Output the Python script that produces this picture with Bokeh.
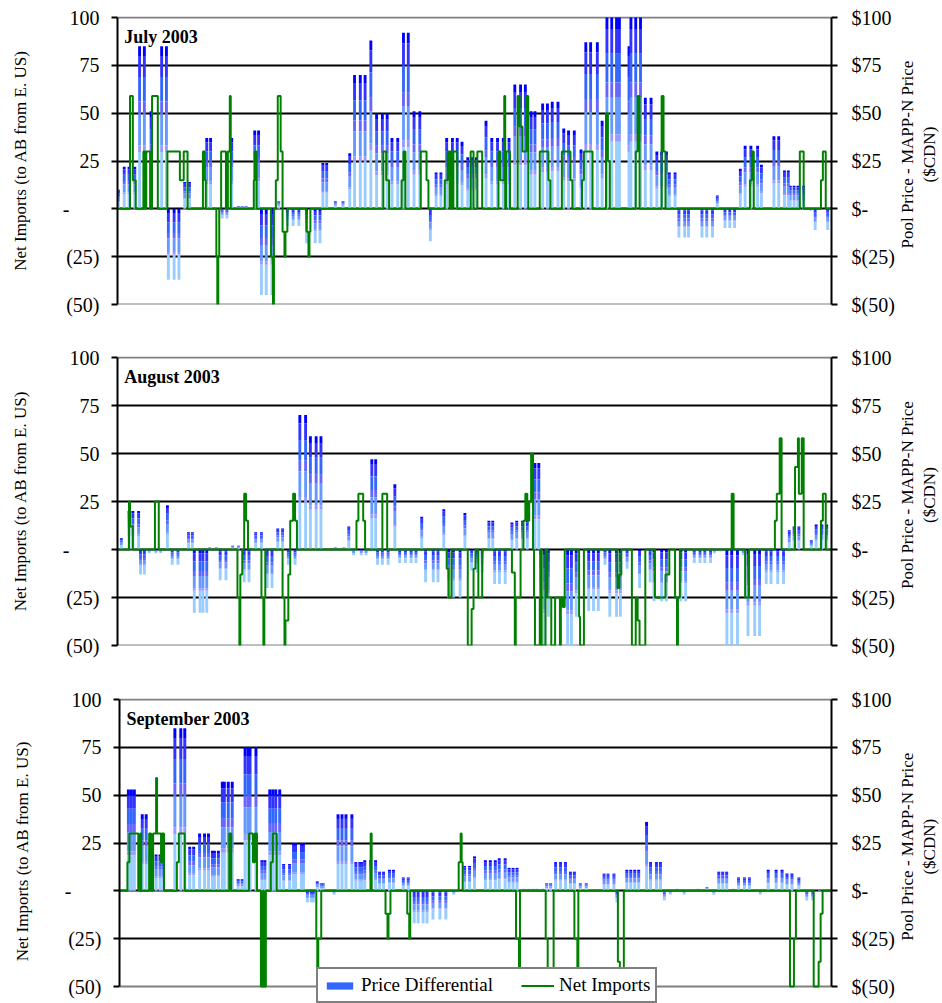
import math

from bokeh.plotting import figure
from bokeh.layouts import column, row
from bokeh.models import (ColumnDataSource, Range1d, LinearAxis, FixedTicker,
                          Label, Legend, LegendItem, Span)
from bokeh.embed import file_html
from bokeh.resources import INLINE

# ---------------------------------------------------------------------------
# Hourly data, summer 2003.  Bars: Pool Price - MAPP-N price ($CDN) at the
# given hour of the month.  Net imports: step series (hour of change, level).
# ---------------------------------------------------------------------------
jul_bar_h = [1, 7, 12, 18, 23, 28, 35, 46, 51, 53, 59, 64, 70, 75, 93, 97, 109, 114,
             119, 126, 130, 134, 143, 147, 150, 155, 161, 168, 177, 183, 189, 197,
             206, 211, 214, 218, 227, 235, 242, 247, 253, 258, 264, 270, 276, 281,
             286, 292, 298, 303, 309, 315, 326, 332, 337, 343, 349, 354, 359, 365,
             370, 374, 384, 390, 396, 402, 408, 414, 420, 425, 431, 435, 443, 448,
             453, 459, 465, 470, 476, 483, 488, 493, 500, 505, 510, 515, 520, 523,
             533, 535, 540, 545, 550, 556, 562, 567, 572, 575, 581, 585, 591, 595,
             609, 614, 620, 625, 633, 638, 643, 649, 654, 660, 667, 671, 684, 689,
             695, 699, 701, 705, 709, 715, 722, 727, 740]
jul_bar_v = [10, 22, 22, 22, 85, 85, 51, 85, 85, -37, -37, -37, 14, 14, 37, 37, -5, -5,
             37, 1.5, 1.5, 1.5, 41, 41, -45, -45, -45, 4, -9, -9, -9, -18,
             -18, -18, 24, 24, 4, 4, 29, 70, 70, 70, 88, 50, 50, 50,
             37, 37, 92, 92, 51, 51, -17, 19, 19, 37, 37, 37, 35, 27,
             27, 27, 46, 37, 37, 37, 37, 65, 65, 65, 51, 51, 55, 55,
             56, 56, 42, 41, 41, 31, 87, 87, 87, 46, 100, 100, 100, 100,
             85, 100, 100, 100, 58, 58, 30, 30, 30, 19, 19, -15, -15, -15,
             -15, -15, -15, 7, -10, -10, -10, 21, 33, 33, 33, 23, 38, 38,
             20, 20, 12, 12, 12, 12, -1, -11, -11]

jul_ni_h = [0, 13, 16, 19, 27, 29, 30, 34, 36, 42, 52, 65, 69, 73, 89, 91, 92,
            103, 104, 105, 106, 108, 113, 115, 117, 118, 142, 143, 145,
            160, 162, 163, 165, 167, 170, 172, 174, 175, 177,
            197, 199, 200, 201, 277, 280, 283, 296, 298, 300, 316, 322, 324,
            341, 344, 346, 347, 349, 350, 354, 368, 371, 375, 380,
            397, 399, 403, 404, 405, 409, 417, 419, 422, 426, 428,
            440, 449, 451, 463, 472, 474, 484, 486, 495, 509, 511, 513,
            540, 542, 544, 567, 569, 571, 659, 661, 663, 711, 715,
            733, 735, 738, 744]
jul_ni_v = [0, 59, 15, 0, 30, 0, 30, 0, 59, 0, 30, 15, 30, 0, 30, 15, 0,
            -25, -50, -25, 0, 30, 0, 30, 59, 0, 15, 30, 0,
            -25, -50, 0, 15, 59, 30, -12, -25, -12, 0,
            -12, -25, -12, 0, 30, 15, 0, 15, 30, 0, 30, 15, 0,
            15, 30, 0, 30, 0, 30, 0, 30, 0, 30, 0,
            30, 15, 59, 0, 30, 0, 59, 43, 30, 59, 0,
            30, 15, 0, 30, 15, 0, 15, 30, 0, 50, 25, 0,
            30, 59, 0, 59, 30, 0, 15, 30, 0, 30, 0,
            15, 30, 0, 0]

aug_bar_h = [4, 12, 16, 22, 24, 28, 33, 40, 45, 52, 57, 63, 74, 78, 80, 86, 89, 93,
             96, 103, 107, 113, 120, 126, 132, 137, 144, 150, 156, 161, 167, 172,
             178, 185, 190, 196, 201, 207, 212, 227, 236, 241, 246, 254, 259, 265,
             269, 271, 276, 282, 289, 294, 300, 306, 311, 317, 321, 329, 334, 340,
             345, 350, 357, 362, 369, 375, 380, 387, 391, 393, 398, 404, 411, 416,
             422, 427, 435, 439, 441, 445, 449, 469, 473, 478, 491, 496, 501, 508,
             513, 520, 524, 531, 544, 555, 559, 567, 572, 587, 592, 601, 607, 612,
             618, 622, 629, 635, 640, 646, 652, 657, 664, 669, 676, 681, 688, 694,
             700, 705, 710, 723, 728, 734, 739]
aug_bar_v = [6, 20, 20, 20, -13, -13, -2, -2, -2, 23, -8, -8, 9, 9, -33, -33, -33, -33,
             1, 1, -16, -16, 2, 2, -17, -17, 9, 9, -20, -20, 11, 11,
             -8, -8, 70, 70, 59, 59, 59, 1, 1, 12, -3, -3, -3, 47,
             47, -8, -8, -8, 34, -7, -7, -7, -7, 17, -17, -17, -17, 21,
             -25, -25, -25, 19, -11, -12, -12, 15, 15, -18, -18, -18, 14, 15,
             15, 15, 45, 45, -51, -51, -35, -52, -52, -35, -32, -32, -32, -8,
             -35, -35, -35, -10, -20, -17, -27, -27, -27, -27, -27, -7, -7, -7,
             -7, -2, -1, -51, -51, -51, -3, -45, -45, -45, -18, -18, -18, -18,
             10, 12, 12, 5, 13, 13, 13]

aug_ni_h = [0, 12, 13, 16, 39, 43,
            125, 127, 128, 130, 132, 134, 136, 150, 152, 153, 154,
            172, 174, 175, 178, 180, 183, 185, 187, 249, 251, 256, 258, 276, 281,
            343, 345, 348, 365, 369, 371, 373, 376, 380, 411, 414, 415, 420,
            423, 425, 427, 429, 431, 433, 434, 435, 440, 441, 442, 446, 448, 452,
            456, 461, 462, 464, 466, 481, 482, 486, 521, 523, 525,
            536, 540, 542, 544, 550, 560, 571, 575, 581, 583, 584, 586,
            640, 642, 654, 658, 685, 687, 690, 692, 706, 709, 710, 713, 715,
            733, 735, 738, 744]
aug_ni_v = [0, 25, 12, 0, 25, 0,
            -25, -50, -13, 0, 29, 15, 0, -25, -50, -25, 0,
            -25, -50, -37, -13, 15, 29, 15, 0, 15, 29, 15, 0, 29, 0,
            -10, -25, 0, -50, -31, -10, 0, -25, 0, -12, -50, -25, 0,
            15, 29, 15, 25, 50, 0, -25, -50, -25, 0, -50, 0, -25, -50,
            -25, -50, -25, -30, 0, -35, -50, 0, -20, -13, 0,
            -50, -25, -37, -50, 0, -25, -13, 0, -25, -50, -25, 0,
            29, 0, -25, 0, 15, 29, 58, 0, 43, 58, 29, 58, 0,
            15, 29, 0, 0]

sep_bar_h = [4, 9, 12, 15, 23, 27, 31, 37, 41, 44, 47, 51, 53, 56, 62, 66, 71, 75,
             81, 86, 90, 94, 96, 100, 104, 106, 110, 114, 120, 124, 127, 130, 132,
             138, 144, 147, 152, 155, 158, 162, 166, 172, 176, 178, 184, 186, 190,
             194, 196, 200, 204, 206, 217, 221, 225, 229, 235, 239, 243, 245, 248,
             254, 259, 263, 267, 273, 277, 287, 292, 298, 302, 307, 311, 317, 324,
             330, 338, 349, 354, 359, 370, 375, 380, 384, 390, 394, 398, 402, 409,
             414, 418, 422, 428, 432, 436, 441, 446, 451, 456, 460, 466, 472, 490,
             494, 500, 503, 513, 517, 521, 525, 533, 537, 543, 547, 551, 557, 564,
             571, 585, 594, 601, 606, 610, 614, 621, 626, 632, 637, 648, 656, 664,
             670, 675, 680, 687, 695, 701, 708, 715]
sep_bar_v = [1, 53, 53, 53, 40, 40, 19, 19, 19, 19, 1, 1, 1, 85, 85, 85, 23, 23,
             30, 30, 30, 21, 21, 21, 57, 57, 57, 57, 6, 6, 75, 75, 75,
             75, 16, 16, 53, 53, 53, 53, 14, 14, 25, 25, 25, 25, -6,
             -6, -6, 5, 4, 4, -2, 40, 40, 40, 40, 15, 15, 15, 16,
             16, 16, 10, 10, 11, 11, 7, 7, -17, -17, -17, -17, -15, -15,
             -15, -2, 13, 13, 18, 16, 16, 16, 17, 17, 12, 12, 12, 1,
             1, 1, 1, 1, 4, 4, 15, 15, 15, 10, 10, 4, 4, 9,
             9, 9, -6, 11, 11, 11, 11, 36, 15, 15, 15, -5, -2, 1,
             -2, 1, 2, -2, 10, 10, 10, 1, 7, 7, 7, -2, 11, 11,
             11, 9, 9, 7, -5, -5, 1, 1]

sep_ni_h = [0, 8, 10, 19, 21, 22, 30, 32, 34, 37, 38, 42, 43, 45, 58, 60, 66,
            111, 113, 131, 135, 137, 139, 143, 145, 146, 148, 153, 155, 159,
            199, 200, 201, 204, 254, 255, 269, 271, 272, 274, 291, 293, 294,
            343, 345, 346, 347, 401, 404, 405, 431, 433, 439, 460, 463, 464,
            504, 506, 510, 678, 682, 684, 702, 707, 709, 711, 720]
sep_ni_v = [0, 15, 30, 0, 30, 0, 30, 0, 30, 59, 30, 15, 30, 0, 15, 30, 0,
            30, 0, 30, 15, 30, 0, -50, 0, -50, 0, 15, 30, 0,
            -25, -50, -25, 0, 30, 0, -12, -25, -12, 0, -12, -25, 0,
            15, 30, 15, 0, -25, -50, 0, -25, -50, 0, -25, -50, 0,
            -37, -50, 0, -50, -25, 0, -50, -37, -12, 0, 0]

months = ["July 2003", "August 2003", "September 2003"]
month_hours = [744, 744, 720]

axis_ticks = [-50, -25, 0, 25, 50, 75, 100]
left_labels = ["(50)", "(25)", "-" + "\u00a0" * 6, "25", "50", "75", "100"]
right_labels = ["$(50)", "$(25)", "$-", "$25", "$50", "$75", "$100"]

# vertical colour gradient of each bar, dark at the top, light at the bottom
band_colors = ["#0000FF", "#3333FF", "#3366FF", "#6666FF", "#6699FF", "#9999FF", "#99CCFF"]
band_edges = [0.0, 0.06, 0.19, 0.34, 0.42, 0.61, 0.65, 1.0]

SERIF = "Liberation Serif"
GREEN = "#008000"
GREY = "#808080"
MAIN_W = 897      # chart part of each row
SIDE_W = 45       # strip holding the right-hand axis title
FRAME_RIGHT = 832
Y_LO, Y_HI = -50, 100
PX_PER_UNIT = 287 / 150.0


def band_source(hours, vals, k):
    f0, f1 = band_edges[k], band_edges[k + 1]
    tops, bots = [], []
    for v in vals:
        hi, lo = max(v, 0), min(v, 0)
        span = hi - lo
        tops.append(hi - f0 * span)
        bots.append(hi - f1 * span)
    return ColumnDataSource(dict(x=hours, top=tops, bottom=bots))


def style_axis(ax, labels, standoff):
    ax.ticker = FixedTicker(ticks=axis_ticks)
    ax.bounds = (Y_LO, Y_HI)
    ax.major_label_overrides = dict(zip(axis_ticks, labels))
    ax.axis_line_color = "black"
    ax.axis_line_width = 2
    ax.major_tick_line_color = "black"
    ax.major_tick_line_width = 2
    ax.major_tick_out = 6
    ax.major_tick_in = 0
    ax.minor_tick_line_color = None
    ax.major_label_text_font = SERIF
    ax.major_label_text_font_size = "20px"
    ax.major_label_text_color = "black"
    ax.major_label_standoff = standoff


def make_panel(idx, bar_h, bar_v, ni_h, ni_v, height, top, bottom, left,
               extra_bottom_px=0, with_legend=False):
    n = month_hours[idx]
    # a little room above 100 so the top rule is not clipped; optional extra
    # room below -50 that the legend can sit in
    y0 = Y_LO - extra_bottom_px / PX_PER_UNIT
    y1 = Y_HI + 1 / PX_PER_UNIT
    p = figure(width=MAIN_W, height=height, x_range=Range1d(0, n), y_range=Range1d(y0, y1),
               output_backend="svg", toolbar_location=None, x_axis_location=None,
               min_border_left=left, min_border_right=MAIN_W - FRAME_RIGHT,
               min_border_top=top, min_border_bottom=bottom)
    p.background_fill_color = "white"
    p.border_fill_color = "white"
    p.outline_line_color = None

    p.xgrid.visible = False
    p.ygrid.ticker = FixedTicker(ticks=[-25, 0, 25, 50, 75])
    p.ygrid.grid_line_color = "black"
    p.ygrid.grid_line_width = 2
    p.ygrid.grid_line_alpha = 1.0
    for loc in (Y_HI, Y_LO):
        p.add_layout(Span(location=loc, dimension="width", line_color=GREY,
                          line_width=2, level="underlay"))

    lax = p.yaxis[0]
    style_axis(lax, left_labels, 12)
    lax.axis_label = "Net Imports (to AB from E. US)"
    lax.axis_label_text_font = SERIF
    lax.axis_label_text_font_size = "17px"
    lax.axis_label_text_font_style = "normal"
    lax.axis_label_text_color = "black"
    lax.axis_label_standoff = 30

    rax = LinearAxis()
    style_axis(rax, right_labels, 14)
    p.add_layout(rax, "right")

    band_renderers = []
    for k, c in enumerate(band_colors):
        r = p.vbar(x="x", top="top", bottom="bottom", width=3.0,
                   source=band_source(bar_h, bar_v, k),
                   fill_color=c, line_color=None)
        band_renderers.append(r)

    line = p.step(x=ni_h, y=ni_v, mode="after", line_color=GREEN, line_width=2)

    p.add_layout(Label(x=7, y=90, text=months[idx], text_font=SERIF,
                       text_font_style="bold", text_font_size="18px",
                       text_color="black", text_baseline="middle"))

    if with_legend:
        legend = Legend(
            items=[LegendItem(label="Price Differential", renderers=[band_renderers[2]]),
                   LegendItem(label="Net Imports", renderers=[line])],
            location=(316 - left, 0),
            orientation="horizontal",
            border_line_color="black", border_line_width=2,
            background_fill_color="white", background_fill_alpha=1.0,
            label_text_font=SERIF, label_text_font_size="19px",
            label_text_color="black",
            glyph_width=33, glyph_height=9, label_standoff=5,
            spacing=28, padding=5, margin=0)
        p.add_layout(legend)
    return p


def side_title(height, center_from_top):
    s = figure(width=SIDE_W, height=height, x_range=Range1d(0, SIDE_W),
               y_range=Range1d(0, height), output_backend="svg",
               toolbar_location=None, x_axis_location=None, y_axis_location=None,
               min_border=0)
    s.outline_line_color = None
    s.xgrid.visible = False
    s.ygrid.visible = False
    y = height - center_from_top
    common = dict(angle=math.pi / 2, text_align="center", text_baseline="middle",
                  text_font=SERIF, text_font_size="17px", text_color="black")
    s.add_layout(Label(x=10, y=y, text="Pool Price - MAPP-N Price", **common))
    s.add_layout(Label(x=32, y=y, text="($CDN)", **common))
    return s


p1 = make_panel(0, jul_bar_h, jul_bar_v, jul_ni_h, jul_ni_v, 340, 16, 36, 117)
p2 = make_panel(1, aug_bar_h, aug_bar_v, aug_ni_h, aug_ni_v, 340, 16, 35, 117)
p3 = make_panel(2, sep_bar_h, sep_bar_v, sep_ni_h, sep_ni_v, 323, 18, 0, 119,
                extra_bottom_px=17, with_legend=True)

s1 = side_title(340, 163)
s2 = side_title(340, 163)
s3 = side_title(323, 157)

layout = column(row(p1, s1, spacing=0), row(p2, s2, spacing=0),
                row(p3, s3, spacing=0), spacing=0)
open("out.html", "w").write(file_html(layout, INLINE))
